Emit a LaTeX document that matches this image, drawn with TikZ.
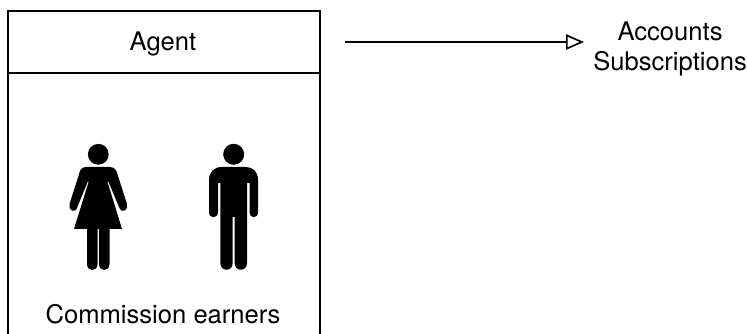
\documentclass[tikz,border=0pt]{standalone}
\usepackage{fontspec}
\setmainfont{TeX Gyre Heros}
\usetikzlibrary{arrows.meta}
\tikzset{
  px/.style={x=0.75pt,y=-0.75pt},
  frameline/.style={draw=black,line width=1.3pt},
  label/.style={font=\fontsize{19.2pt}{22.5pt}\selectfont,text=black,align=center},
  figure/.style={fill=black,draw=none},
  flow/.style={draw=black,line width=1.3pt,-{Triangle[open,length=13.5pt,width=11.5pt,line width=1.3pt]}},
}
\begin{document}
\begin{tikzpicture}[px]
\useasboundingbox (0,0) rectangle (747,334);
% frame, open at the bottom
\draw[frameline] (8,340) -- (8,11) -- (320,11) -- (320,340);
\draw[frameline] (8,73) -- (320,73);
\node[label] (agent) at (163,44) {Agent};
\node[label] (earners) at (163,314) {Commission earners};
% woman
\fill[figure] (98.3,154.3) circle (10.4);
\fill[figure] (86,167) -- (110,167)
  .. controls (115,167) and (117,171) .. (118,176)
  -- (127,204) .. controls (128.5,210) and (122,214) .. (119.5,208)
  -- (108.5,182) -- (107.5,182) -- (122,229) -- (109.5,229) -- (109.5,264)
  .. controls (109.5,272) and (99,272) .. (99,264)
  -- (99,229) -- (97.6,229) -- (97.6,264)
  .. controls (97.6,272) and (87,272) .. (87,264)
  -- (87,229) -- (74,229) -- (88.6,182) -- (87.6,182) -- (77,208)
  .. controls (74.5,214) and (68,210) .. (69.5,204)
  -- (78.5,176) .. controls (79.5,171) and (81,167) .. (86,167) -- cycle;
% man
\fill[figure] (233.7,154.3) circle (10.5);
\fill[figure] (222,167) -- (246,167)
  .. controls (253,167) and (258,172) .. (258,180)
  -- (258,212) .. controls (258,219) and (249.6,219) .. (249.6,212)
  -- (249.6,183) -- (247,183) -- (247,263)
  .. controls (247,272) and (234.7,272) .. (234.7,263)
  -- (234.7,217) -- (232.7,217) -- (232.7,263)
  .. controls (232.7,272) and (220.3,272) .. (220.3,263)
  -- (220.3,183) -- (218,183) -- (218,212)
  .. controls (218,219) and (209,219) .. (209,212)
  -- (209,180) .. controls (209,172) and (214,167) .. (222,167) -- cycle;
% connector
\node[label,anchor=west,inner xsep=6.75pt,inner ysep=0pt] (targets) at (584,49) {Accounts\\Subscriptions};
\coordinate (start) at (345,42);
\draw[flow] (start) -- (start -| targets.west);
\end{tikzpicture}
\end{document}
